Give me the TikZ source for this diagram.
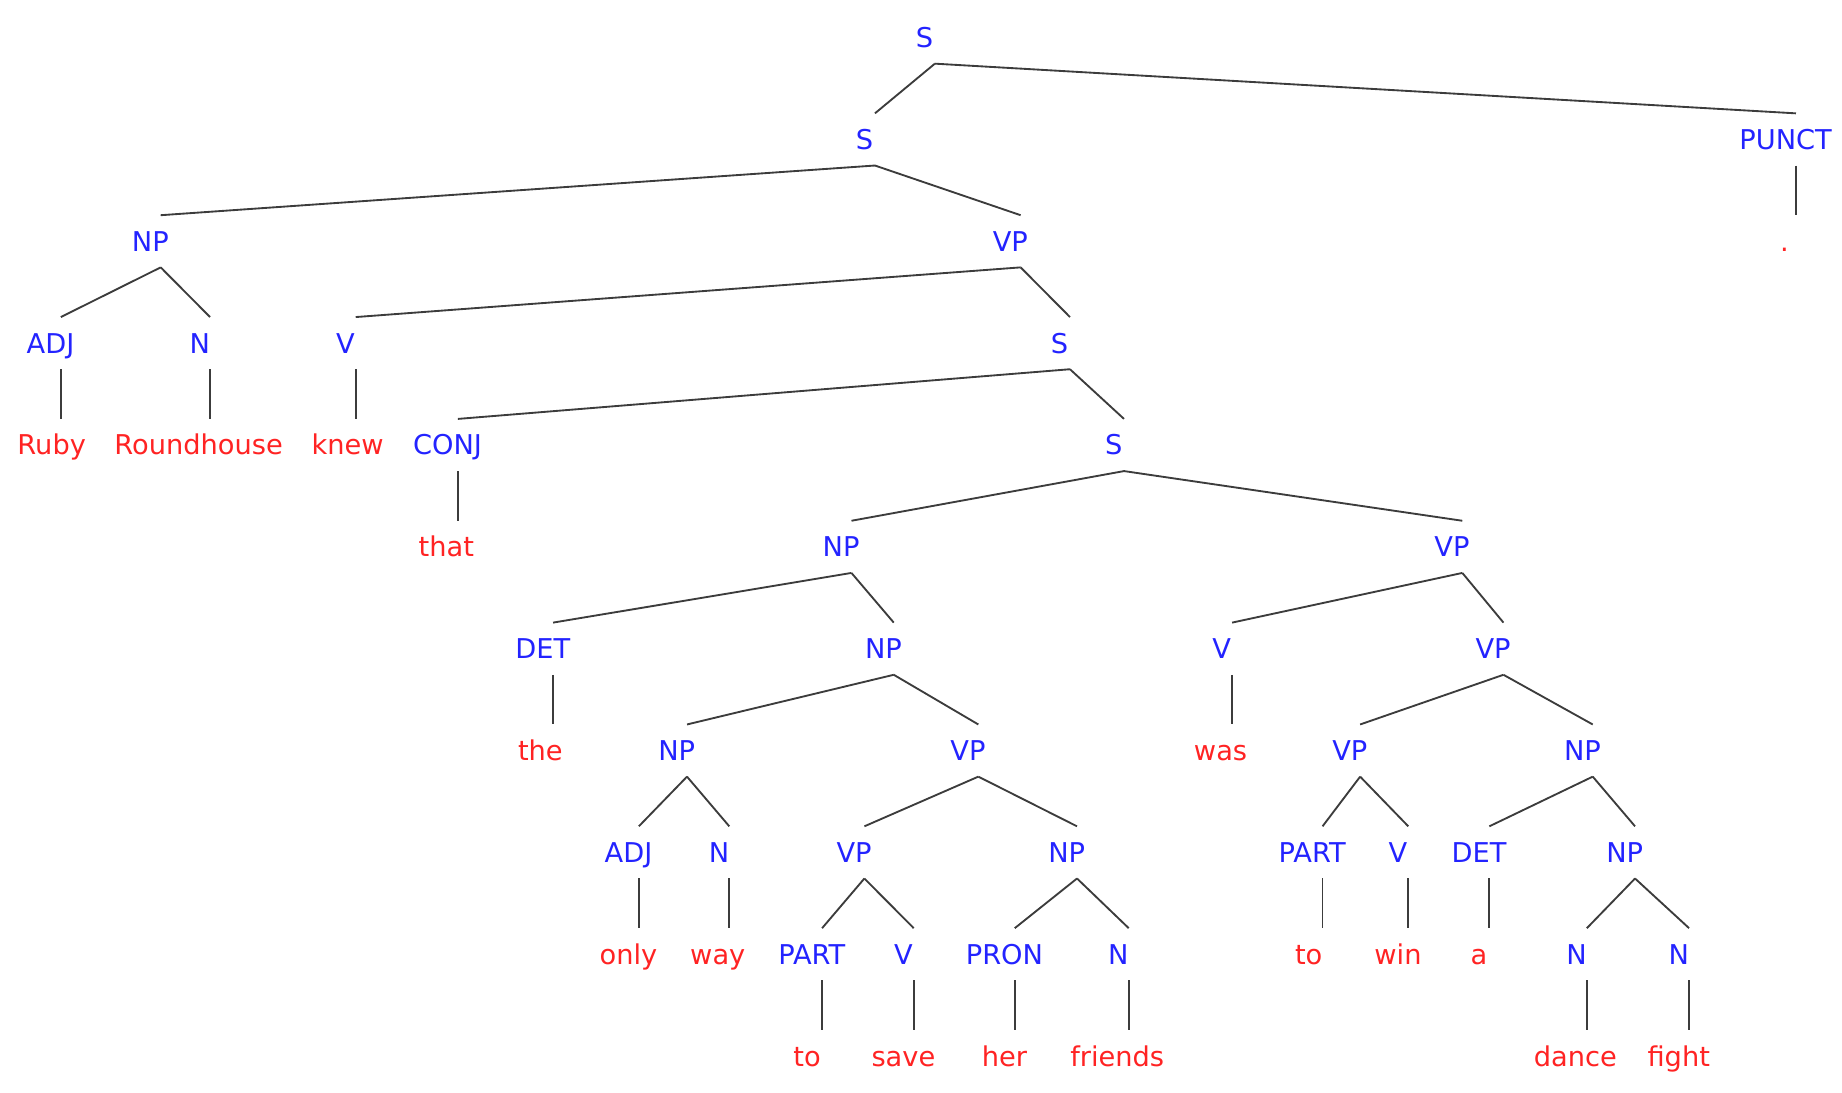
\documentclass[tikz,border=0pt]{standalone}
\usepackage{fontspec}
\setmainfont{DejaVu Sans}
\definecolor{catblue}{RGB}{35,35,255}
\definecolor{wordred}{RGB}{255,35,35}
\definecolor{branchgray}{RGB}{60,60,60}

\begin{document}
\begin{tikzpicture}
	\tikzstyle{tag}=[inner sep=0pt, minimum height=0.43cm, text height=4.8pt, text depth=0pt, font=\fontsize{6.6}{8}\selectfont, text=catblue]
	\tikzstyle{word}=[tag, text=wordred]
	\tikzstyle{branch}=[draw, branchgray, line width=0.45pt]
	\newcommand\YTop{-0.32}
	\newcommand\YStep{0.867}
	\newcommand\Off{0.088cm}
	\newcommand\Branch[2]{\path [branch] ([xshift=\Off]#1.south) -- ([xshift=\Off]#2.north);}
	% unary branches stay vertical
	\newcommand\Stem[2]{\path [branch] ([xshift=\Off]#1.south) -- ([xshift=\Off]#1.south |- #2.north);}

	\useasboundingbox (0,0) rectangle (15.68,-9.30);

	% Top
	\node [tag] at (7.87,\YTop) (s0) {S};
	\node [tag] at (7.36,\YTop-\YStep) (s1) {S};
	\node [tag] at (15.20,\YTop-\YStep) (punct) {PUNCT};
	\node [word] at (15.19,\YTop-2*\YStep) (dot) {.};

	% Subject
	\node [tag] at (1.28,\YTop-2*\YStep) (np1) {NP};
	\node [tag] at (0.43,\YTop-3*\YStep) (adj1) {ADJ};
	\node [tag] at (1.70,\YTop-3*\YStep) (n1) {N};
	\node [word] at (0.44,\YTop-4*\YStep) (ruby) {Ruby};
	\node [word] at (1.69,\YTop-4*\YStep) (roundhouse) {Roundhouse};

	% Main verb phrase
	\node [tag] at (8.60,\YTop-2*\YStep) (vp1) {VP};
	\node [tag] at (2.94,\YTop-3*\YStep) (v1) {V};
	\node [tag] at (9.02,\YTop-3*\YStep) (s2) {S};
	\node [word] at (2.96,\YTop-4*\YStep) (knew) {knew};
	\node [tag] at (3.81,\YTop-4*\YStep) (conj) {CONJ};
	\node [tag] at (9.48,\YTop-4*\YStep) (s3) {S};
	\node [word] at (3.80,\YTop-5*\YStep) (that) {that};

	% Embedded subject
	\node [tag] at (7.16,\YTop-5*\YStep) (np2) {NP};
	\node [tag] at (4.62,\YTop-6*\YStep) (det1) {DET};
	\node [tag] at (7.52,\YTop-6*\YStep) (np3) {NP};
	\node [word] at (4.60,\YTop-7*\YStep) (the) {the};
	\node [tag] at (5.76,\YTop-7*\YStep) (np4) {NP};
	\node [tag] at (8.24,\YTop-7*\YStep) (vp4) {VP};
	\node [tag] at (5.35,\YTop-8*\YStep) (adj2) {ADJ};
	\node [tag] at (6.12,\YTop-8*\YStep) (n2) {N};
	\node [tag] at (7.27,\YTop-8*\YStep) (vp6) {VP};
	\node [tag] at (9.08,\YTop-8*\YStep) (np6) {NP};
	\node [word] at (5.35,\YTop-9*\YStep) (only) {only};
	\node [word] at (6.11,\YTop-9*\YStep) (way) {way};
	\node [tag] at (6.91,\YTop-9*\YStep) (part1) {PART};
	\node [tag] at (7.69,\YTop-9*\YStep) (v3) {V};
	\node [tag] at (8.55,\YTop-9*\YStep) (pron) {PRON};
	\node [tag] at (9.52,\YTop-9*\YStep) (n3) {N};
	\node [word] at (6.87,\YTop-10*\YStep) (to1) {to};
	\node [word] at (7.69,\YTop-10*\YStep) (save) {save};
	\node [word] at (8.55,\YTop-10*\YStep) (her) {her};
	\node [word] at (9.51,\YTop-10*\YStep) (friends) {friends};

	% Embedded verb phrase
	\node [tag] at (12.36,\YTop-5*\YStep) (vp2) {VP};
	\node [tag] at (10.40,\YTop-6*\YStep) (v2) {V};
	\node [tag] at (12.71,\YTop-6*\YStep) (vp3) {VP};
	\node [word] at (10.39,\YTop-7*\YStep) (was) {was};
	\node [tag] at (11.49,\YTop-7*\YStep) (vp5) {VP};
	\node [tag] at (13.47,\YTop-7*\YStep) (np5) {NP};
	\node [tag] at (11.17,\YTop-8*\YStep) (part2) {PART};
	\node [tag] at (11.90,\YTop-8*\YStep) (v4) {V};
	\node [tag] at (12.59,\YTop-8*\YStep) (det2) {DET};
	\node [tag] at (13.83,\YTop-8*\YStep) (np7) {NP};
	\node [word] at (11.14,\YTop-9*\YStep) (to2) {to};
	\node [word] at (11.90,\YTop-9*\YStep) (win) {win};
	\node [word] at (12.59,\YTop-9*\YStep) (a) {a};
	\node [tag] at (13.42,\YTop-9*\YStep) (n4) {N};
	\node [tag] at (14.29,\YTop-9*\YStep) (n5) {N};
	\node [word] at (13.41,\YTop-10*\YStep) (dance) {dance};
	\node [word] at (14.29,\YTop-10*\YStep) (fight) {fight};

	% Branches
	\Branch{s0}{s1} \Branch{s0}{punct} \Stem{punct}{dot}
	\Branch{s1}{np1} \Branch{s1}{vp1}
	\Branch{np1}{adj1} \Branch{np1}{n1}
	\Stem{adj1}{ruby} \Stem{n1}{roundhouse}
	\Branch{vp1}{v1} \Branch{vp1}{s2} \Stem{v1}{knew}
	\Branch{s2}{conj} \Branch{s2}{s3} \Stem{conj}{that}
	\Branch{s3}{np2} \Branch{s3}{vp2}
	\Branch{np2}{det1} \Branch{np2}{np3} \Stem{det1}{the}
	\Branch{np3}{np4} \Branch{np3}{vp4}
	\Branch{np4}{adj2} \Branch{np4}{n2}
	\Stem{adj2}{only} \Stem{n2}{way}
	\Branch{vp4}{vp6} \Branch{vp4}{np6}
	\Branch{vp6}{part1} \Branch{vp6}{v3}
	\Stem{part1}{to1} \Stem{v3}{save}
	\Branch{np6}{pron} \Branch{np6}{n3}
	\Stem{pron}{her} \Stem{n3}{friends}
	\Branch{vp2}{v2} \Branch{vp2}{vp3} \Stem{v2}{was}
	\Branch{vp3}{vp5} \Branch{vp3}{np5}
	\Branch{vp5}{part2} \Branch{vp5}{v4}
	\Stem{part2}{to2} \Stem{v4}{win}
	\Branch{np5}{det2} \Branch{np5}{np7} \Stem{det2}{a}
	\Branch{np7}{n4} \Branch{np7}{n5}
	\Stem{n4}{dance} \Stem{n5}{fight}

\end{tikzpicture}
\end{document}
